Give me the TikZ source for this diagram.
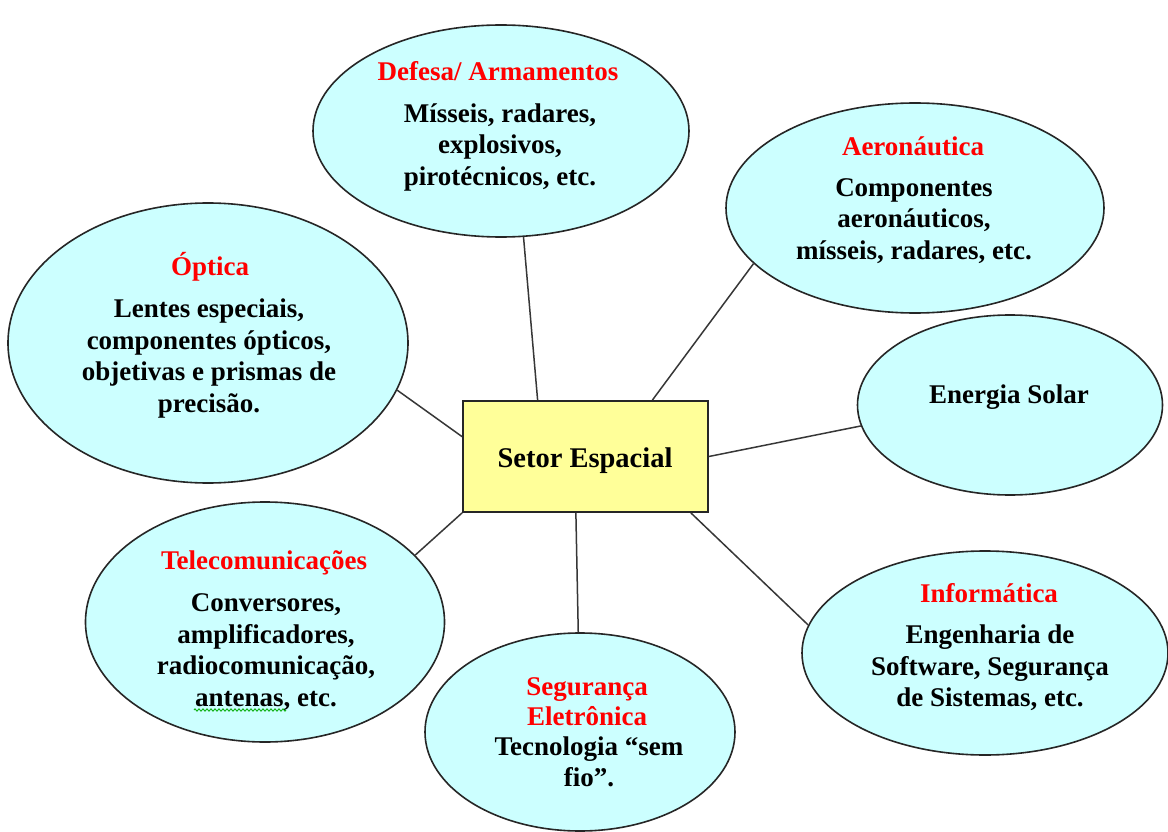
\documentclass[tikz,border=0pt]{standalone}
\usepackage{fontspec}
\setmainfont{Liberation Serif}
\usetikzlibrary{shapes.geometric,calc,decorations.pathmorphing}
\definecolor{bubblefill}{RGB}{204,255,255}
\definecolor{hubfill}{RGB}{255,255,153}
\definecolor{linegray}{RGB}{55,55,55}
\definecolor{titlered}{RGB}{255,0,0}
\definecolor{spellgreen}{RGB}{0,170,0}

\begin{document}
\begin{tikzpicture}[x=1pt,y=-1pt,
  bubble/.style={ellipse, draw=black!85, line width=1.6pt, fill=bubblefill, inner sep=0pt},
  hub/.style={rectangle, draw=black!85, line width=1.8pt, fill=hubfill, inner sep=0pt},
  link/.style={draw=linegray, line width=1.5pt},
  head/.style={text=titlered, font=\bfseries\fontsize{27}{30}\selectfont, align=center, inner sep=0pt},
  body/.style={font=\bfseries\fontsize{27}{31.5}\selectfont, align=center, inner sep=0pt},
  hubtext/.style={font=\bfseries\fontsize{28.5}{32}\selectfont, inner sep=0pt}]

\useasboundingbox[fill=white] (0,0) rectangle (1168,832);

% outer bubbles
\node[bubble, minimum width=376pt, minimum height=212pt] (def) at (501,131) {};
\node[bubble, minimum width=378pt, minimum height=210pt] (aer) at (915,208) {};
\node[bubble, minimum width=400pt, minimum height=280pt] (opt) at (208,343) {};
\node[bubble, minimum width=305pt, minimum height=180pt] (ene) at (1010,405) {};
\node[bubble, minimum width=359pt, minimum height=240pt] (tel) at (265,622) {};
\node[bubble, minimum width=310pt, minimum height=198pt] (seg) at (580,732) {};
\node[bubble, minimum width=366pt, minimum height=204pt] (inf) at (985,653) {};

% central box
\node[hub, minimum width=245pt, minimum height=111pt] (hub) at (585.5,456.5) {};
\node[hubtext] (hubt) at (585,461) {Setor Espacial};

% spokes
\draw[link] ($(hub.north west)!0.306!(hub.north east)$) -- (def.-78.7);
\draw[link] ($(hub.north west)!0.771!(hub.north east)$) -- (aer.-161.5);
\draw[link] ($(hub.north west)!0.324!(hub.south west)$) -- (opt.-14.9);
\draw[link] (hub.east) -- (ene.188.2);
\draw[link] (hub.south west) -- (tel.24.6);
\draw[link] ($(hub.south west)!0.461!(hub.south east)$) -- (seg.91);
\draw[link] ($(hub.south west)!0.927!(hub.south east)$) -- (inf.171.3);

% bubble texts
\node[head] (defh) at (498,71) {Defesa/ Armamentos};
\node[body] (defb) at (500,147) {Mísseis, radares,\\explosivos,\\pirotécnicos, etc.};

\node[head] (aerh) at (913,146) {Aeronáutica};
\node[body] (aerb) at (914,221) {Componentes\\aeronáuticos,\\mísseis, radares, etc.};

\node[head] (opth) at (210,267) {Óptica};
\node[body] (optb) at (209,358.5) {Lentes especiais,\\componentes ópticos,\\objetivas e prismas de\\precisão.};

\node[body] (eneb) at (1009,397) {Energia Solar};

\node[head] (telh) at (264,563) {Telecomunicações};
\node[body] (telb) at (266,652) {Conversores,\\amplificadores,\\radiocomunicação,\\antenas, etc.};

\node[head] (segh) at (587,702) {Segurança\\Eletrônica};
\node[body] (segb) at (589,762) {Tecnologia “sem\\fio”.};

\node[head] (infh) at (989,593) {Informática};
\node[body] (infb) at (990,668) {Engenharia de\\Software, Segurança\\de Sistemas, etc.};

% spelling mark under "antenas"
\coordinate (wavyA) at (194,710);
\coordinate (wavyB) at (286,710);
\draw[spellgreen, line width=0.8pt, decorate, decoration={zigzag, amplitude=1.2pt, segment length=4pt}] (wavyA) -- (wavyB);

\end{tikzpicture}
\end{document}
